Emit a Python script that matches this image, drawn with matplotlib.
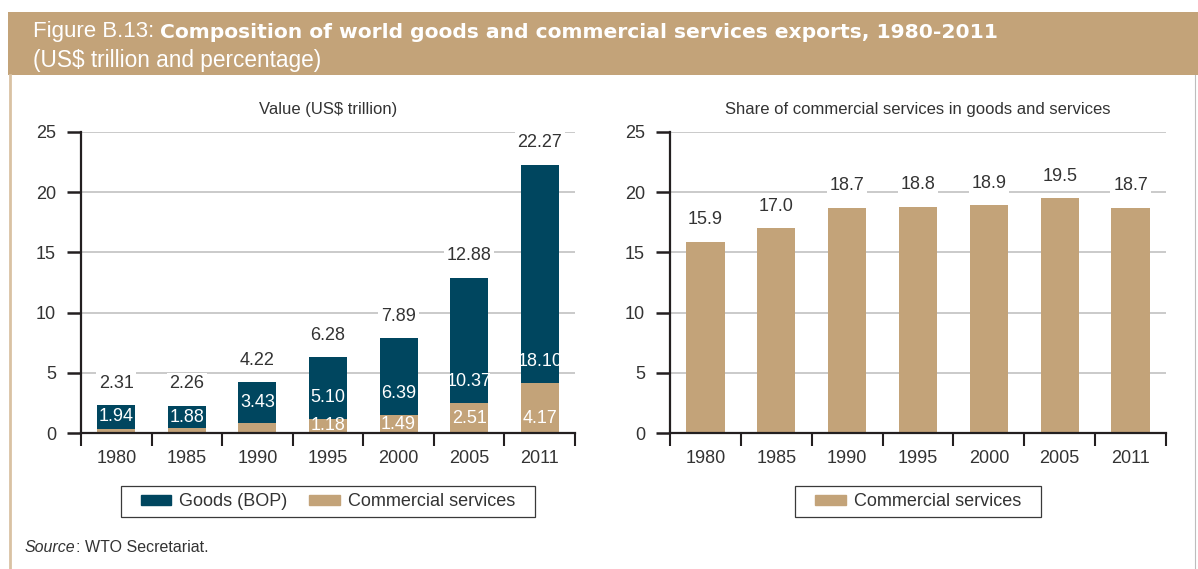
import matplotlib
matplotlib.use("Agg")
import matplotlib.pyplot as plt
from matplotlib.patches import Rectangle, Patch
from matplotlib.lines import Line2D
from matplotlib.text import Annotation

# --- data -------------------------------------------------------------
years = ["1980", "1985", "1990", "1995", "2000", "2005", "2011"]
goods = [1.94, 1.88, 3.43, 5.10, 6.39, 10.37, 18.10]
services = [0.37, 0.38, 0.79, 1.18, 1.49, 2.51, 4.17]
totals = [2.31, 2.26, 4.22, 6.28, 7.89, 12.88, 22.27]
share = [15.9, 17.0, 18.7, 18.8, 18.9, 19.5, 18.7]
yticks = [0, 5, 10, 15, 20, 25]

# --- style --------------------------------------------------------------
NAVY = "#00465F"
TAN = "#C3A379"
TEXT = "#333333"
AXIS = "#231F20"
GRID = "#C6C6C6"
FONT = "Liberation Sans"
FS = 13

plt.rcParams["font.family"] = [FONT, "DejaVu Sans"]

W, H = 1198, 569
fig = plt.figure(figsize=(W / 100, H / 100), dpi=100)


def fx(px):
    return px / W


def fy(py):
    return 1 - py / H


def follow(prev, text, **kw):
    """Place text directly after another text artist on the same baseline."""
    a = Annotation(text, xy=(1, 0), xycoords=prev, ha="left", va="bottom",
                   annotation_clip=False, **kw)
    fig.add_artist(a)
    return a


# header band
fig.patches.append(Rectangle((fx(8), fy(75)), fx(W - 8), 63 / H,
                             transform=fig.transFigure, facecolor=TAN,
                             edgecolor="none", zorder=0))
# frame lines below the band
fig.add_artist(Line2D([fx(9.5), fx(9.5)], [fy(75), 0], transform=fig.transFigure,
                      color="#D9C2A3", lw=2))
fig.add_artist(Line2D([fx(1195), fx(1195)], [fy(75), 0], transform=fig.transFigure,
                      color="#BDBDBD", lw=0.8))

t1 = fig.text(fx(33), fy(32), "Figure B.13: ", color="white", fontsize=16,
              ha="left", va="center")
follow(t1, "Composition of world goods and commercial services exports, 1980-2011",
       color="white", fontsize=14.6, fontweight="bold", family="DejaVu Sans")
fig.text(fx(33), fy(60), "(US$ trillion and percentage)", color="white",
         fontsize=16.3, ha="left", va="center")

# source line
s1 = fig.text(fx(25), fy(547), "Source", style="italic", color=TEXT,
              fontsize=11.5, ha="left", va="center")
follow(s1, ": WTO Secretariat.", color=TEXT, fontsize=11.5)

ax1 = fig.add_axes([fx(81), fy(433), 494 / W, 301 / H])
ax2 = fig.add_axes([fx(670), fy(433), 496 / W, 301 / H])

x = list(range(len(years)))
BW = 0.54


def style_axes(ax):
    ax.set_xlim(-0.5, len(years) - 0.5)
    ax.set_ylim(0, 25)
    ax.set_yticks(yticks)
    ax.set_yticklabels([str(v) for v in yticks])
    for s in ("top", "right"):
        ax.spines[s].set_visible(False)
    for s in ("left", "bottom"):
        ax.spines[s].set_color(AXIS)
        ax.spines[s].set_linewidth(1.6)
    ax.set_xticks(x)
    ax.set_xticklabels(years)
    ax.set_xticks([i - 0.5 for i in range(len(years) + 1)], minor=True)
    ax.tick_params(axis="x", which="major", length=0, pad=12, labelsize=FS,
                   labelcolor=TEXT)
    ax.tick_params(axis="x", which="minor", length=9, width=1.5, color=AXIS,
                   direction="out")
    ax.tick_params(axis="y", length=10, width=1.8, color=AXIS, pad=8,
                   labelsize=FS, labelcolor=TEXT)
    ax.yaxis.grid(True, color=GRID, lw=1.3)
    ax.set_axisbelow(True)
    ax.patch.set_alpha(0)


style_axes(ax1)
style_axes(ax2)

# left: stacked values
ax1.bar(x, services, BW, color=TAN, zorder=2, label="Commercial services")
ax1.bar(x, goods, BW, bottom=services, color=NAVY, zorder=2, label="Goods (BOP)")

box = dict(boxstyle="square,pad=0.15", facecolor="white", edgecolor="none")
for i in x:
    ax1.annotate(f"{totals[i]:.2f}", xy=(i, services[i] + goods[i]),
                 xytext=(0, 22), textcoords="offset pixels", ha="center",
                 va="center", fontsize=FS, color=TEXT, bbox=box, zorder=3)
    gy = services[i] + min(goods[i] / 2, 1.8)
    ax1.text(i, gy, f"{goods[i]:.2f}", ha="center", va="center", fontsize=FS,
             color="white", zorder=3)
    if services[i] >= 1:
        sy = min(services[i] / 2, 1.22)
        ax1.text(i, sy, f"{services[i]:.2f}", ha="center", va="center",
                 fontsize=FS, color="white", zorder=3)

# right: services share
ax2.bar(x, share, BW, color=TAN, zorder=2, label="Commercial services")
for i in x:
    ax2.annotate(f"{share[i]:.1f}", xy=(i, share[i]), xytext=(0, 22),
                 textcoords="offset pixels", ha="center", va="center",
                 fontsize=FS, color=TEXT, bbox=box, zorder=3)

fig.text(fx(328), fy(110), "Value (US$ trillion)", ha="center", va="center",
         fontsize=12, color=TEXT)
fig.text(fx(918), fy(110), "Share of commercial services in goods and services",
         ha="center", va="center", fontsize=12, color=TEXT)

# legends (framed separately for wider side padding)
hkw = dict(handlelength=1.7, handleheight=0.45, handletextpad=0.45,
           columnspacing=1.2, frameon=False, fontsize=FS,
           borderaxespad=0, borderpad=0)
h1 = [Patch(color=NAVY), Patch(color=TAN)]
leg1 = ax1.legend(h1, ["Goods (BOP)", "Commercial services"], ncol=2,
                  loc="center", bbox_to_anchor=(0.5, -0.228), labelcolor=TEXT, **hkw)
leg2 = ax2.legend([Patch(color=TAN)], ["Commercial services"], ncol=1,
                  loc="center", bbox_to_anchor=(0.5, -0.228), labelcolor=TEXT, **hkw)

fig.canvas.draw()
r = fig.canvas.get_renderer()
for leg in (leg1, leg2):
    bb = leg.get_window_extent(r)
    x0, x1 = bb.x0 - 20, bb.x1 + 20
    yc = (bb.y0 + bb.y1) / 2
    y0, y1 = yc - 15.5, yc + 15.5
    fig.patches.append(Rectangle((x0 / W, y0 / H), (x1 - x0) / W, (y1 - y0) / H,
                                 transform=fig.transFigure, facecolor="none",
                                 edgecolor="#3A3A3A", lw=0.9))

fig.savefig("out.png", dpi=100)
